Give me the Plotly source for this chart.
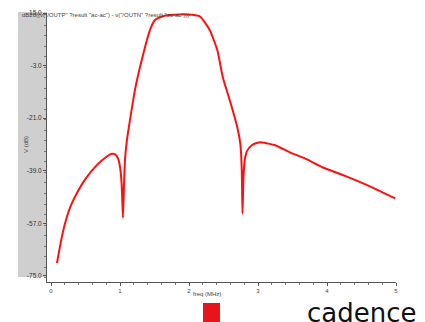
import plotly.graph_objects as go

freq = [0.087, 0.15, 0.21, 0.29, 0.39, 0.50, 0.667, 0.80, 0.87, 0.93, 0.975, 1.005, 1.025, 1.043,
        1.058, 1.072, 1.10, 1.145, 1.217, 1.29, 1.362, 1.435, 1.507, 1.623, 1.72, 1.87, 2.05, 2.16,
        2.30, 2.41, 2.49, 2.59, 2.70, 2.745, 2.765, 2.775, 2.79, 2.81, 2.84, 2.91, 2.98, 3.06, 3.25,
        3.46, 3.68, 3.94, 4.20, 4.43, 4.70, 4.99]
vdb = [-70.6, -62.5, -56.5, -50.8, -46.0, -41.8, -37.0, -34.3, -33.3, -33.4, -35.0, -38.5, -44.0, -55.1,
       -44.0, -35.3, -28.6, -21.6, -11.3, -3.5, 3.3, 9.2, 12.6, 13.9, 14.3, 14.5, 14.4, 13.8,
       9.2, 2.3, -7.0, -14.8, -24.1, -30.0, -39.0, -53.7, -41.0, -35.0, -32.3, -30.3, -29.5, -29.3, -30.3,
       -32.7, -34.8, -37.9, -40.2, -42.4, -45.2, -48.5]

ytick_vals = [15, -3, -21, -39, -57, -75]
ytick_text = ["15.0", "-3.0", "-21.0", "-39.0", "-57.0", "-75.0"]
xtick_vals = [0, 1, 2, 3, 4, 5]
xtick_text = ["0", "1", "2", "3", "4", "5"]

OFF = 8  # page body margin
W, H = 425 - OFF, 322 - OFF
L = 47 - OFF
T = 13 - OFF
R = W - (396 - OFF)
B = H - (282 - OFF)
PW, PH = W - L - R, H - T - B

def px(x):
    return (x - OFF - L) / PW

def py(y):
    return (T + PH - (y - OFF)) / PH

fig = go.Figure()
fig.add_trace(go.Scatter(x=freq, y=vdb, mode="lines",
                         line=dict(color="#ff1010", width=2, shape="spline", smoothing=0.5),
                         hoverinfo="skip", showlegend=False))

fig.add_shape(type="rect", xref="paper", yref="paper", x0=px(18), x1=px(47), y0=py(277), y1=py(12),
              fillcolor="#cfcfcf", line=dict(width=0), layer="below")
fig.add_shape(type="rect", xref="paper", yref="paper", x0=px(203), x1=px(220), y0=py(322), y1=py(303),
              fillcolor="#e8141c", line=dict(width=0))

fig.add_annotation(text='dB20((v("/OUTP" ?result "ac-ac") - v("/OUTN" ?result "ac-ac")))',
                   xref="paper", yref="paper", x=px(20), y=py(15), xanchor="left", yanchor="middle",
                   showarrow=False, font=dict(family="Liberation Sans", size=6, color="#444"))
fig.add_annotation(text="V (dB)", xref="paper", yref="paper", x=px(21), y=py(145), textangle=-90,
                   showarrow=False, font=dict(family="Liberation Sans", size=6, color="#444"))
fig.add_annotation(text="freq (MHz)", xref="paper", yref="paper", x=px(207), y=py(299),
                   showarrow=False, font=dict(family="Liberation Sans", size=6, color="#444"))
fig.add_annotation(text="cadence", xref="paper", yref="paper", x=px(362), y=py(313),
                   xanchor="center", yanchor="middle", showarrow=False,
                   font=dict(family="DejaVu Sans", size=26, color="#111"))

fig.update_layout(
    width=W, height=H, margin=dict(l=L, r=R, t=T, b=B, autoexpand=False),
    paper_bgcolor="white", plot_bgcolor="white",
    xaxis=dict(range=[-4 / 69, 5.0], tickvals=xtick_vals, ticktext=xtick_text,
               showgrid=False, zeroline=False, showline=True, linecolor="#555", linewidth=1,
               ticks="outside", ticklen=3, tickcolor="#555",
               minor=dict(dtick=0.2, ticks="outside", ticklen=2, tickcolor="#777"),
               tickfont=dict(family="Liberation Sans", size=6, color="#444")),
    yaxis=dict(range=[-77.1, 15.0], tickvals=ytick_vals, ticktext=ytick_text,
               showgrid=False, zeroline=False, showline=True, linecolor="#555", linewidth=1,
               ticks="outside", ticklen=3, tickcolor="#555",
               minor=dict(dtick=3.6, ticks="outside", ticklen=2, tickcolor="#777"),
               tickfont=dict(family="Liberation Sans", size=6.5, color="#333")),
)
fig.write_html("out.html")
